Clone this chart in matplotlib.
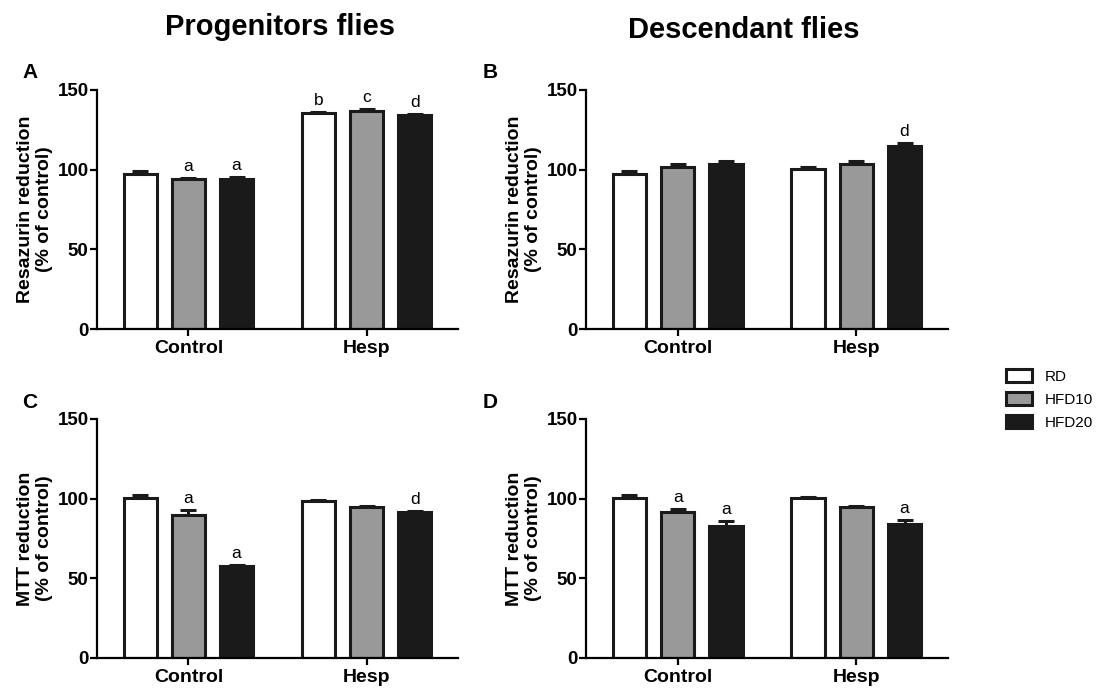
import matplotlib
matplotlib.use("Agg")
import matplotlib.pyplot as plt
from matplotlib.patches import Patch
import numpy as np

plt.rcParams['font.family'] = ['Liberation Sans', 'DejaVu Sans']

# groups and diets
groups = ["Control", "Hesp"]
diets = ["RD", "HFD10", "HFD20"]
diet_colors = ["#ffffff", "#999999", "#1a1a1a"]

# values: [Control RD, HFD10, HFD20], [Hesp RD, HFD10, HFD20]
a_mean = [[97.5, 94.0, 94.0], [135.5, 137.0, 134.5]]
a_err = [[1.5, 0.8, 1.2], [0.6, 1.2, 0.5]]
a_sig = [["", "a", "a"], ["b", "c", "d"]]

b_mean = [[97.0, 101.5, 103.5], [100.2, 103.8, 115.0]]
b_err = [[2.0, 1.8, 2.2], [1.2, 1.5, 1.8]]
b_sig = [["", "", ""], ["", "", "d"]]

c_mean = [[100.5, 90.0, 57.5], [98.8, 95.0, 91.8]]
c_err = [[2.0, 3.0, 1.0], [0.4, 0.6, 0.5]]
c_sig = [["", "a", "a"], ["", "", "d"]]

d_mean = [[100.2, 91.5, 83.0], [100.3, 95.0, 84.3]]
d_err = [[2.0, 2.0, 3.0], [0.5, 0.7, 2.0]]
d_sig = [["", "a", "a"], ["", "", "a"]]

group_pos = np.array([0.0, 3.7])
offsets = np.array([-1.0, 0.0, 1.0])
bar_w = 0.69


def draw_panel(ax, means, errs, sigs, ylabel):
    for g, gx in enumerate(group_pos):
        for k in range(3):
            x = gx + offsets[k]
            m = means[g][k]
            e = errs[g][k]
            ax.errorbar(x, m, yerr=[[0], [e]], fmt='none', ecolor='#1a1a1a',
                        elinewidth=2.2, capsize=6, capthick=2.2, zorder=1)
            ax.bar(x, m, width=bar_w, color=diet_colors[k], edgecolor='#1a1a1a',
                   linewidth=2.2, zorder=2)
            if sigs[g][k]:
                ax.annotate(sigs[g][k], (x, m + e), textcoords='offset points',
                            xytext=(0, 3), ha='center', va='bottom', fontsize=12.5)
    ax.set_xlim(-1.9, group_pos[1] + 1.9)
    ax.set_ylim(0, 150)
    ax.set_yticks([0, 50, 100, 150])
    ax.set_xticks(group_pos)
    ax.set_xticklabels(groups, fontweight='bold', fontsize=14)
    for lab in ax.get_yticklabels():
        lab.set_fontweight('bold')
        lab.set_fontsize(13.5)
    ax.spines['top'].set_visible(False)
    ax.spines['right'].set_visible(False)
    ax.spines['left'].set_linewidth(1.6)
    ax.spines['bottom'].set_linewidth(1.6)
    ax.tick_params(axis='both', width=1.6, length=5, direction='out')
    ax.tick_params(axis='y', pad=1)
    ax.tick_params(axis='x', pad=3)
    ax.set_ylabel(ylabel, fontweight='bold', fontsize=14, labelpad=3)


fig = plt.figure(figsize=(11.03, 6.88), dpi=100)
W, H = 1103, 688
boxes = {
    "A": (97, 90, 458, 329),
    "B": (586, 90, 948, 329),
    "C": (97, 419, 458, 658),
    "D": (586, 419, 948, 658),
}
axes = {}
for key, (x0, y0, x1, y1) in boxes.items():
    axes[key] = fig.add_axes([x0 / W, 1 - y1 / H, (x1 - x0) / W, (y1 - y0) / H])

resa_label = "Resazurin reduction\n(% of control)"
mtt_label = "MTT reduction\n(% of control)"
draw_panel(axes["A"], a_mean, a_err, a_sig, resa_label)
draw_panel(axes["B"], b_mean, b_err, b_sig, resa_label)
draw_panel(axes["C"], c_mean, c_err, c_sig, mtt_label)
draw_panel(axes["D"], d_mean, d_err, d_sig, mtt_label)

# titles and panel letters
fig.text(280 / W, 1 - 27 / H, "Progenitors flies", ha='center', va='center',
         fontsize=21, fontweight='bold')
fig.text(744 / W, 1 - 30 / H, "Descendant flies", ha='center', va='center',
         fontsize=21, fontweight='bold')
for key, (px, py) in {"A": (30, 73), "B": (490, 73), "C": (30, 402), "D": (490, 402)}.items():
    fig.text(px / W, 1 - py / H, key, ha='center', va='center',
             fontsize=15, fontweight='bold')

# legend
handles = [Patch(facecolor=c, edgecolor='#1a1a1a', linewidth=2.2) for c in diet_colors]
fig.legend(handles, diets, loc='upper left', bbox_to_anchor=(1000 / W, 1 - 363 / H),
           frameon=False, fontsize=11, handlelength=1.7, handleheight=0.9,
           handletextpad=0.8, labelspacing=0.55, borderaxespad=0)

fig.savefig("out.png", dpi=100)
